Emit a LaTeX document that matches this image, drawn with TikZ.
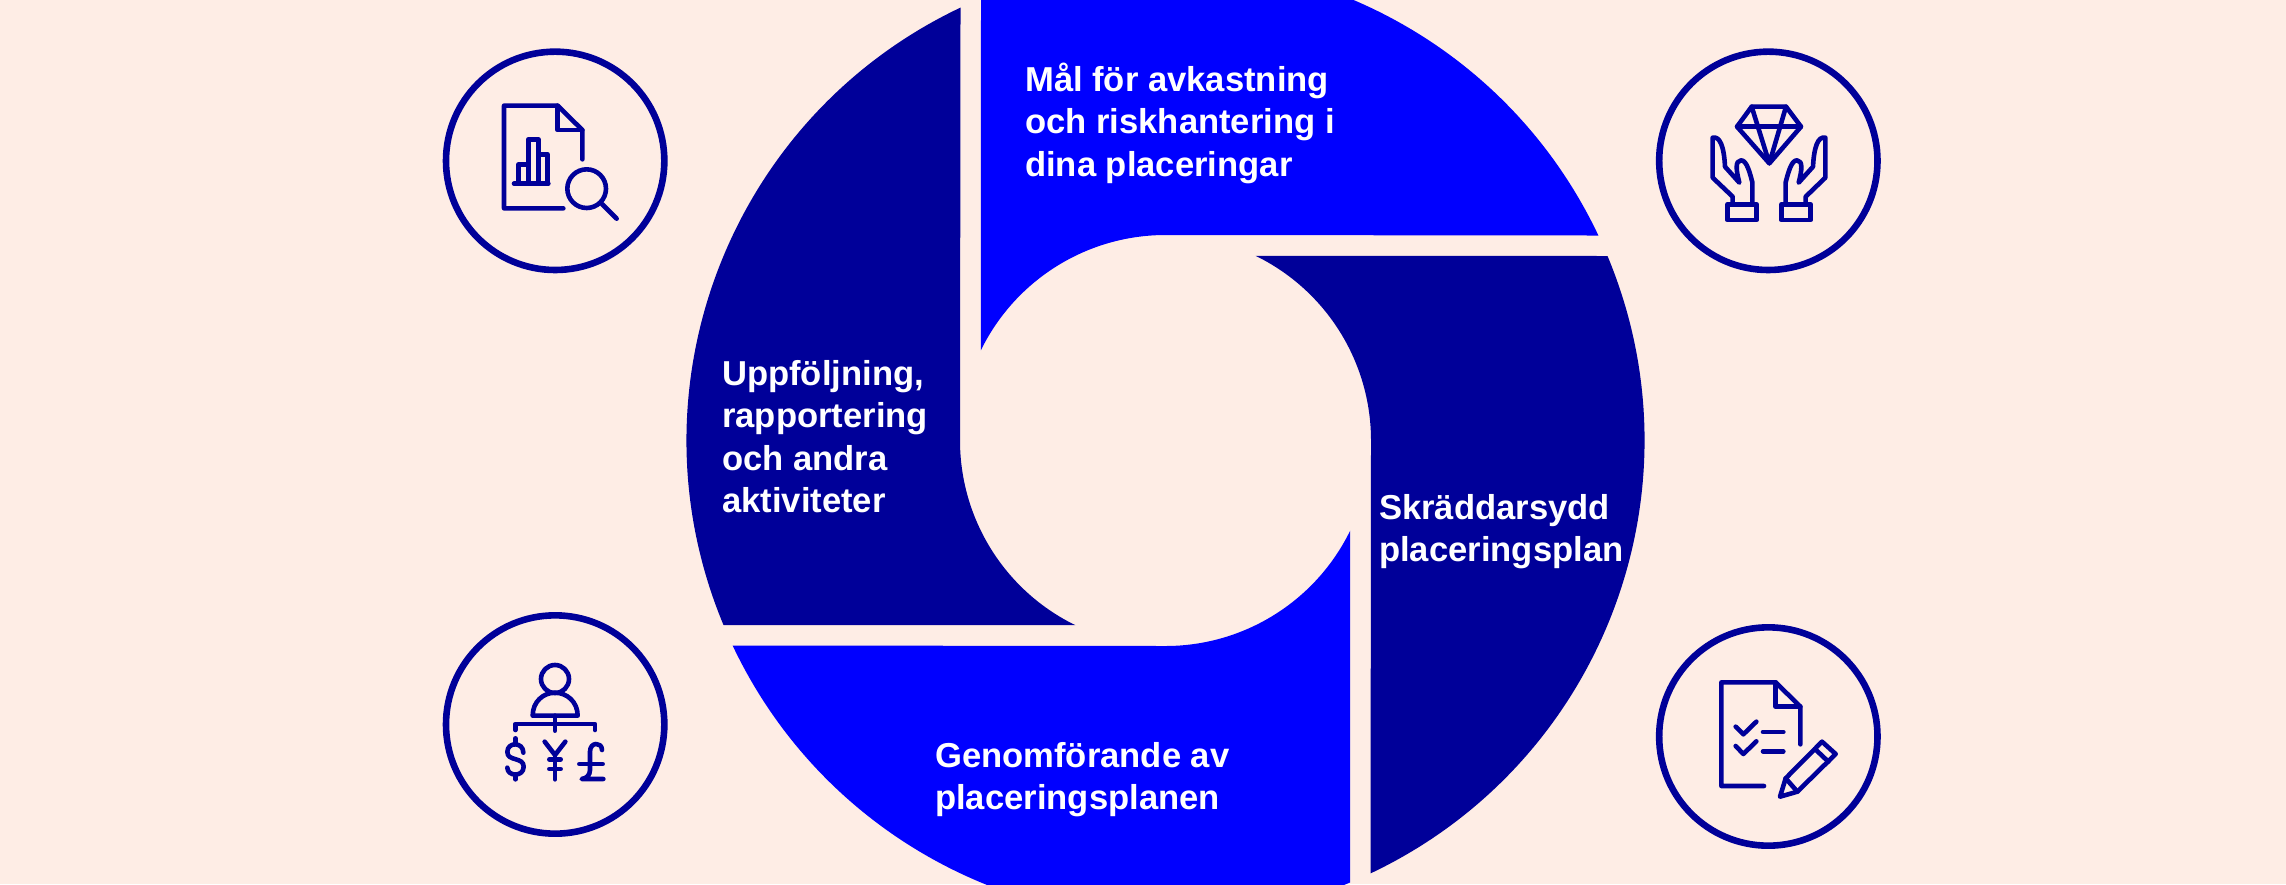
\documentclass[tikz,border=0pt]{standalone}
\usepackage{fontspec}
\setmainfont{Liberation Sans}
\definecolor{bgc}{HTML}{FEEDE5}
\definecolor{navy}{HTML}{000099}
\definecolor{vivid}{HTML}{0000FF}
\tikzset{
  ring/.style={draw=navy,line width=6.6pt},
  ico/.style={draw=navy,line width=4.6pt,line cap=round,line join=round},
  lab/.style={text=white,inner sep=0pt,anchor=north west,align=left,font=\fontsize{34.6}{42.5}\selectfont\bfseries}
}
\begin{document}
\begin{tikzpicture}[x=1pt,y=-1pt]
\fill[bgc] (0,0) rectangle (2286,884);
\clip (0,0) rectangle (2286,884);
\useasboundingbox (0,0) rectangle (2286,884);
% four segments, each a quarter turn of the first
\foreach \r/\c in {0/vivid,90/navy,180/vivid,270/navy}{
\begin{scope}[shift={(1165.5,440.5)},rotate=\r]
\fill[\c] (-184.5,-442) arc[start angle=-112.66,end angle=-25.34,radius=479]
  -- (0,-205.5) arc[start angle=-90,end angle=-154,radius=205.5] -- cycle;
\end{scope}}
% labels
\node[lab] (t1) at (1025,62.5) {Mål för avkastning\\och riskhantering i\\dina placeringar};
\node[lab] (t2) at (1379,494) {Skräddarsydd\\placeringsplan};
\node[lab] (t3) at (935,742) {Genomförande av\\placeringsplanen};
\node[lab] (t4) at (722,360) {Uppföljning,\\rapportering\\och andra\\aktiviteter};
% icon 1
\begin{scope}[shift={(420,30)},x=1/3*1pt,y=-1/3*1pt]
\draw[ring] (405.5,392.5) circle[radius=327.5];
\draw[ico] (430,535) -- (252,535) -- (252,227) -- (413,227) -- (487,300) -- (487,388);
\draw[ico] (413,227) -- (413,300) -- (487,300);
\draw[ico] (282,461) -- (385,461);
\draw[ico] (296,461) -- (296,403) -- (325,403) -- (325,461);
\draw[ico] (325,403) -- (325,328) -- (355,328) -- (355,461);
\draw[ico] (355,373) -- (383,373) -- (383,461);
\draw[ico] (500,476) circle[radius=58];
\draw[ico] (546,522) -- (590,566);
\end{scope}
% icon 2
\begin{scope}[shift={(1640,30)},x=1/3*1pt,y=-1/3*1pt]
\draw[ring] (385,392.5) circle[radius=327.5];
\draw[ico] (335,230) -- (438,230) -- (483,290) -- (388,400) -- (291,290) -- cycle;
\draw[ico] (291,290) -- (483,290);
\draw[ico] (335,230) -- (388,400) -- (438,230);
\draw[ico] (262,523) rectangle (350,570);
\draw[ico] (278,523) -- (278,500) -- (218,443) -- (218,323) .. controls (240,318) and (252,350) .. (255,410) -- (298,458) .. controls (288,420) and (285,392) .. (303,391) .. controls (320,390) and (330,430) .. (337,457) -- (337,523);
\draw[ico] (497,523) -- (497,500) -- (556,443) -- (556,323) .. controls (534,318) and (522,350) .. (519,410) -- (476,458) .. controls (486,420) and (489,392) .. (471,391) .. controls (454,390) and (444,430) .. (437,457) -- (437,523);
\draw[ico] (424,523) rectangle (512,570);
\end{scope}
% icon 3
\begin{scope}[shift={(420,600)},x=1/3*1pt,y=-1/3*1pt]
\draw[ring] (405.5,373.5) circle[radius=327.5];
\draw[ico] (405,237) circle[radius=42];
\draw[ico] (338,347) .. controls (338,305) and (370,278) .. (405,278) .. controls (440,278) and (473,305) .. (473,347) -- cycle;
\draw[ico] (405,347) -- (405,392);
\draw[ico] (286,390) -- (286,372) -- (525,372) -- (525,390);
\draw[ico] (310,458) .. controls (310,425) and (262,425) .. (262,456) .. controls (262,485) and (311,470) .. (311,500) .. controls (311,532) and (262,530) .. (262,503);
\draw[ico] (286,415) -- (286,430);
\draw[ico] (286,525) -- (286,538);
\draw[ico] (374,425) -- (405,465) -- (436,425);
\draw[ico] (405,465) -- (405,538);
\draw[ico] (388,478) -- (422,478);
\draw[ico] (388,507) -- (422,507);
\draw[ico] (546,450) .. controls (546,425) and (510,425) .. (510,455) -- (510,510) .. controls (510,525) and (500,535) .. (485,537) -- (550,537);
\draw[ico] (478,492) -- (548,492);
\end{scope}
% icon 4
\begin{scope}[shift={(1640,610)},x=1/3*1pt,y=-1/3*1pt]
\draw[ring] (385,379.5) circle[radius=327.5];
\draw[ico] (372,528) -- (244,528) -- (244,217) -- (407,217) -- (481,290) -- (481,403);
\draw[ico] (407,217) -- (407,290) -- (481,290);
\draw[ico] (287,350) -- (310,373) -- (349,335);
\draw[ico] (287,408) -- (310,432) -- (349,394);
\draw[ico] (369,366) -- (430,366);
\draw[ico] (369,424) -- (430,424);
\draw[ico] (420,560) -- (437,505) -- (546,395) -- (587,432) -- (472,545) -- cycle;
\draw[ico] (437,505) -- (472,545);
\draw[ico] (525,417) -- (565,455);
\end{scope}
\end{tikzpicture}
\end{document}
